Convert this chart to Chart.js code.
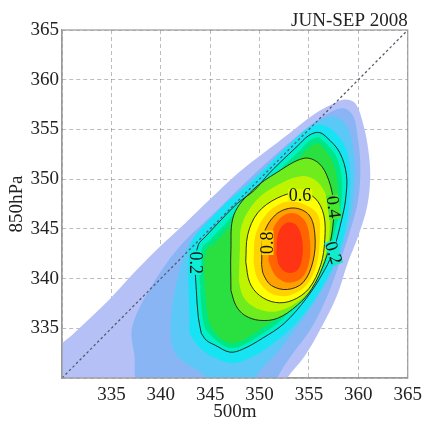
<!DOCTYPE html>
<html>
<head>
<meta charset="utf-8">
<script src="https://cdn.jsdelivr.net/npm/chart.js@4.4.1/dist/chart.umd.min.js"></script>
<style>
  html, body { margin: 0; padding: 0; background: #fff; }
</style>
</head>
<body>
<canvas id="chart-area" width="428" height="423"></canvas>
<script>
// filled density levels, outer to inner, as [500m, 850hPa] outlines
var lavender = [[352.4,329],[329.5,329],[329.5,332.8],[331,334.3],[334.8,337.9],[337.5,340.8],[340,343.3],[342.5,345.6],[345,348],[347.8,350.6],[350.5,352.7],[353,354.6],[355.5,356.5],[357.5,357.6],[358.7,358],[359.7,357.6],[360.5,355.5],[361,353],[361.2,350.3],[360.9,347.3],[360,344.3],[358.9,341.5],[357.8,338.2],[356.1,334.8],[354.5,332.1],[352.8,330],[352.5,329]];
var medBlue = [[351.6,329],[338.1,329],[337.3,332.5],[337.1,335.1],[338.8,338.8],[341.8,343.1],[345.3,346.5],[348.8,349.9],[352,352.8],[355,355.3],[357.3,356.8],[358.6,357.1],[359.5,356.3],[359.9,354.5],[360.2,351.5],[360,348],[359.2,344.9],[358.1,341.6],[356.8,338.1],[355.1,334.8],[353.1,332.1],[351.8,330]];
var skyBlue = [[349.5,329],[345.6,329],[344.1,330.5],[342.5,331.5],[341.3,332.8],[341,335],[341.2,337.5],[341.7,340],[342.3,342.3],[343.3,344.2],[345,346],[347,348],[349,349.8],[351,351.6],[353,353.5],[355,355.3],[356.8,356.2],[358.1,356.1],[359,355],[359.5,352.8],[359.7,350.3],[359.4,347.3],[358.8,344.5],[357.8,341.7],[356,338.3],[353.8,335.1],[351.8,332.6],[350.1,330.8],[349.6,330]];
var cyan = [[342.9,334.5],[342.9,336.5],[342.8,339],[342.8,341.5],[343.1,343.6],[343.9,344.8],[345.6,346.6],[347.4,348.3],[349.2,349.7],[350.6,351.1],[352,352.5],[353.6,354],[354.9,355.1],[356.1,355.5],[357.3,355],[358.7,353.2],[359.2,350.5],[359.1,347.8],[358.8,345.5],[358.1,342.8],[357.2,340.7],[355.5,337.8],[353.2,335],[351,333.2],[349,332],[347.3,331.5],[345.5,332],[344,333]];
var level02 = [[344.1,334.5],[343.8,336.1],[343.6,338.8],[343.5,341.4],[343.8,343.4],[344.5,344.2],[346.1,345.9],[347.8,347.6],[349.5,348.9],[350.8,350.4],[352.1,351.7],[353.8,353.3],[355,354.4],[356,354.7],[356.8,354.2],[358.1,352.7],[358.8,350.4],[358.7,347.9],[358.3,345.9],[357.5,342.9],[356.6,340.9],[354.8,338.1],[352.5,335.5],[350.3,334],[348.3,332.9],[347,332.6],[345.5,333.3],[344.6,333.8]];
var seaGreen = [[344.5,334.9],[344.2,336.2],[344,338.8],[343.9,341.4],[344.2,343.1],[344.9,343.8],[346.5,345.5],[348.1,347.2],[349.8,348.5],[351.1,350],[352.4,351.3],[354,352.8],[355.1,353.9],[356,354.2],[356.5,353.8],[357.7,352.4],[358.3,350.3],[358.3,347.9],[357.9,345.9],[357.1,343],[356.2,341.1],[354.5,338.5],[352.3,335.9],[350.2,334.4],[348.3,333.3],[347,333],[345.7,333.7]];
var green = [[345,335.3],[344.7,336.6],[344.5,338.9],[344.4,341.4],[344.7,343],[345.4,343.5],[346.9,345.1],[348.5,346.8],[350.1,348.1],[351.4,349.6],[352.7,350.9],[354.2,352.3],[355.2,353.3],[356,353.6],[356.3,353.3],[357.3,352],[357.8,350.2],[357.9,347.9],[357.5,345.8],[356.7,343.1],[355.8,341.3],[354.2,338.8],[352.1,336.3],[350.1,334.9],[348.3,333.8],[347,333.5],[345.9,334.1]];
var level04 = [[347.1,338.8],[347.1,342.9],[347.4,346.4],[349.3,348.9],[351.8,350.7],[354.5,352.1],[356,351.6],[357,349.9],[357.5,347.4],[357.3,344.4],[356.6,341.7],[355.3,339],[353.8,337.3],[351.8,336],[350,335.8],[348.5,336.3],[347.6,337.3]];
var yellowGreen = [[347.9,339.8],[348,342.8],[348.2,345.4],[349.6,347.8],[351.8,349.4],[354.2,350.3],[355.8,349.8],[356.8,348.2],[357.1,346.1],[357,343.9],[356.4,341.5],[355.2,338.9],[353.6,337.5],[351.7,336.7],[350,336.9],[348.8,337.6],[348.2,338.5]];
var level06 = [[348.6,341.7],[348.8,344.4],[349.8,346.6],[351.8,348.1],[354.1,348.7],[355.6,348.1],[356.5,346.4],[356.6,343.9],[356.2,341.4],[355,339],[353.3,337.8],[351.6,337.6],[350,338.3],[349,339.6]];
var gold = [[349.4,341.6],[349.6,344.4],[350.7,346.5],[352.6,347.7],[354.4,347.5],[355.9,346.4],[356.1,344.2],[355.8,341.5],[354.7,339.3],[353,338.3],[351.4,338.4],[350.4,339.1],[349.7,340.2]];
var level08 = [[350.2,341.4],[350.4,344.4],[351.6,346.4],[353.4,347.1],[355,346.4],[355.6,344.4],[355.4,341.7],[354.4,339.6],[352.8,338.9],[351.2,339.3],[350.4,340.4]];
var orangeRed = [[350.9,341.8],[351.1,344.2],[352,346],[353.3,346.6],[354.6,345.8],[355.1,343.8],[355,341.6],[354.2,340],[352.8,339.6],[351.6,340.3]];
var peak = [[351.7,342.5],[351.9,344.6],[352.7,345.6],[353.7,345.4],[354.3,344],[354.3,342],[353.8,340.8],[352.8,340.6],[352,341.3]];

var diagonal = [[330,330],[365,365]];

// contour labels
var labelText = ['0.2', '0.6', '0.4', '0.2', '0.8'];
var labelX = [343.5, 354.1, 357.5, 357.5, 350.8];
var labelY = [341.6, 348.4, 347.2, 342.6, 343.6];

var xTicks = [330, 335, 340, 345, 350, 355, 360, 365];
var yTicks = [330, 335, 340, 345, 350, 355, 360, 365];

var fillLevels = [lavender, medBlue, skyBlue, cyan, level02, seaGreen, green, level04, yellowGreen, level06, gold, level08, orangeRed, peak];
var fillColors = ['#b5c1f6', '#89b5f5', '#5cc8f8', '#16e4f2', '#00f0c8', '#00e682', '#2ae040', '#6eec1e', '#bef400', '#ffff00', '#ffd200', '#ffa000', '#ff6400', '#ff3414'];
var contourLines = [level02, level04, level06, level08];

var labelRot = [90, 0, 82, 72, -90];
var labelBg = ['#0ceed8', '#e2f800', '#48e830', '#10eccc', '#ffd400'];

function toPts(arr) {
  var out = arr.map(function (p) { return {x: p[0], y: p[1]}; });
  out.push({x: arr[0][0], y: arr[0][1]});
  return out;
}

var datasets = [];
fillLevels.forEach(function (lvl, i) {
  datasets.push({
    data: toPts(lvl),
    areaColor: fillColors[i],
    showLine: true, borderWidth: 0, pointRadius: 0, fill: false,
    tension: 0.35, capBezierPoints: false,
    order: 100 - i
  });
});
contourLines.forEach(function (lvl) {
  datasets.push({
    data: toPts(lvl),
    showLine: true, borderColor: '#1a1a1a', borderWidth: 0.9, pointRadius: 0, fill: false,
    tension: 0.35, capBezierPoints: false,
    order: 5
  });
});
datasets.push({
  data: diagonal.map(function (p) { return {x: p[0], y: p[1]}; }),
  showLine: true, borderColor: '#5a5a6a', borderWidth: 1.3, borderDash: [2.5, 2.5],
  pointRadius: 0, fill: false, order: 1
});

// fills each closed outline with the spline Chart.js computed for it
var polyFill = {
  id: 'polyFill',
  beforeDatasetDraw: function (chart, args) {
    var ds = chart.data.datasets[args.index];
    if (!ds.areaColor) return;
    var a = chart.chartArea, ctx = chart.ctx;
    args.meta.dataset.updateControlPoints(a, 'x');
    var pts = args.meta.data;
    ctx.save();
    ctx.beginPath();
    ctx.rect(a.left, a.top, a.right - a.left, a.bottom - a.top);
    ctx.clip();
    ctx.beginPath();
    for (var i = 0; i < pts.length; i++) {
      var p = pts[i];
      if (i === 0) { ctx.moveTo(p.x, p.y); continue; }
      var q = pts[i - 1];
      if (q.cp2x !== undefined && p.cp1x !== undefined) ctx.bezierCurveTo(q.cp2x, q.cp2y, p.cp1x, p.cp1y, p.x, p.y);
      else ctx.lineTo(p.x, p.y);
    }
    ctx.closePath();
    ctx.fillStyle = ds.areaColor;
    ctx.fill();
    ctx.restore();
  },
  afterDatasetsDraw: function (chart) {
    var ctx = chart.ctx, xs = chart.scales.x, ys = chart.scales.y;
    ctx.save();
    ctx.font = '18px "Liberation Serif"';
    ctx.textAlign = 'center';
    ctx.textBaseline = 'middle';
    labelText.forEach(function (t, i) {
      var px = xs.getPixelForValue(labelX[i]), py = ys.getPixelForValue(labelY[i]);
      var w = ctx.measureText(t).width;
      ctx.save();
      ctx.translate(px, py);
      ctx.rotate(labelRot[i] * Math.PI / 180);
      ctx.fillStyle = labelBg[i];
      ctx.fillRect(-w / 2 - 1, -6, w + 2, 12);
      ctx.fillStyle = '#111';
      ctx.fillText(t, 0, 1);
      ctx.restore();
    });
    ctx.restore();
  },
  afterDraw: function (chart) {
    var ctx = chart.ctx, a = chart.chartArea;
    ctx.save();
    ctx.strokeStyle = '#9a9a9a';
    ctx.lineWidth = 1.2;
    ctx.strokeRect(a.left, a.top, a.right - a.left, a.bottom - a.top);
    ctx.fillStyle = '#222';
    ctx.font = '19px "Liberation Serif"';
    ctx.textAlign = 'right';
    ctx.textBaseline = 'alphabetic';
    ctx.fillText('JUN-SEP 2008', a.right, 26);
    ctx.restore();
  }
};

var tickFont = {family: '"Liberation Serif"', size: 19};

var config = {
  type: 'scatter',
  data: { datasets: datasets },
  options: {
    responsive: false,
    animation: false,
    events: [],
    layout: { padding: {left: 0, right: 17, top: 30, bottom: 0} },
    plugins: { legend: {display: false}, tooltip: {enabled: false}, title: {display: false} },
    scales: {
      x: {
        type: 'linear', min: 330, max: 365, z: 1,
        afterBuildTicks: function (s) { s.ticks = xTicks.map(function (v) { return {value: v}; }); },
        afterFit: function (s) { s.height = 45; },
        ticks: { color: '#222', font: tickFont, padding: 6, autoSkip: false, maxRotation: 0,
          callback: function (v) { return v === 330 ? '' : v; } },
        grid: { color: 'rgba(0,0,0,0.26)', lineWidth: 1, drawTicks: false },
        border: { color: '#9a9a9a', width: 1.2, dash: [4, 3] },
        title: { display: true, text: '500m', color: '#222', font: tickFont, padding: {top: 0, bottom: 0} }
      },
      y: {
        type: 'linear', min: 330, max: 365, z: 1,
        afterBuildTicks: function (s) { s.ticks = yTicks.map(function (v) { return {value: v}; }); },
        afterFit: function (s) { s.width = 62; },
        ticks: { color: '#222', font: tickFont, padding: 3, autoSkip: false,
          callback: function (v) { return v === 330 ? '' : v; } },
        grid: { color: 'rgba(0,0,0,0.26)', lineWidth: 1, drawTicks: false },
        border: { color: '#9a9a9a', width: 1.2, dash: [4, 3] },
        title: { display: true, text: '850hPa', color: '#222', font: tickFont, padding: {top: 6, bottom: 0} }
      }
    }
  },
  plugins: [polyFill]
};

var ctx2 = document.getElementById('chart-area').getContext('2d');
window.myChart = new Chart(ctx2, config);
</script>
</body>
</html>
